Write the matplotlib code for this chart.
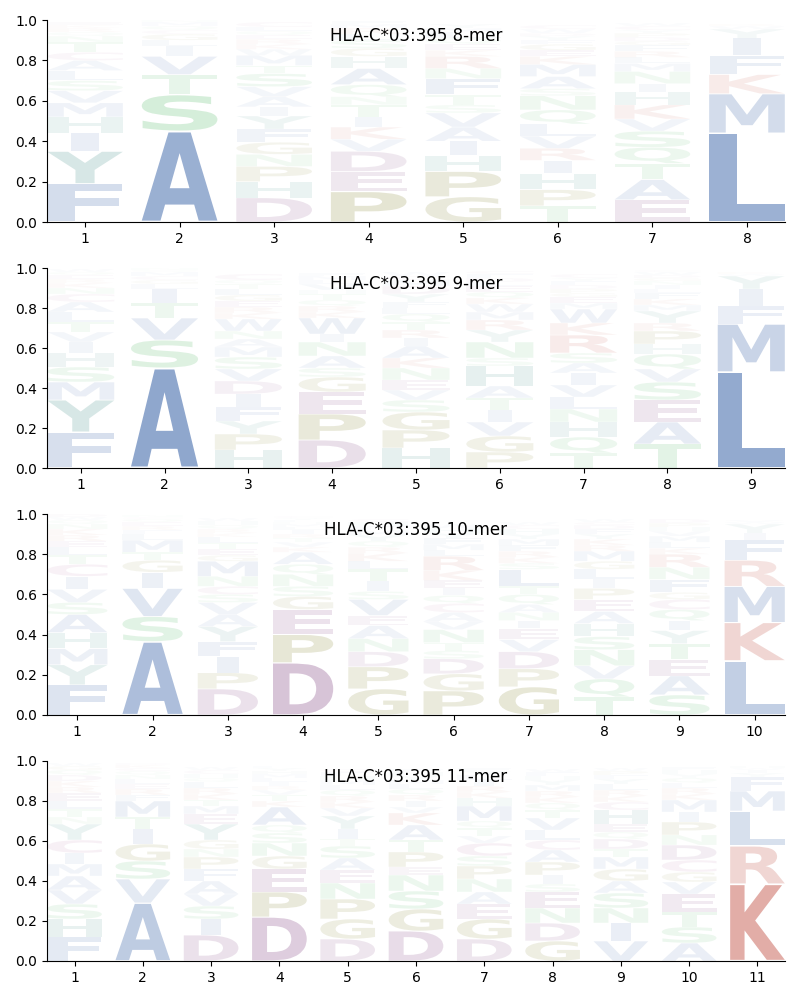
import matplotlib
matplotlib.use("Agg")
import matplotlib.pyplot as plt
from matplotlib.textpath import TextPath
from matplotlib.patches import PathPatch
from matplotlib.font_manager import FontProperties
from matplotlib.transforms import Affine2D

allele = "HLA-C*03:395"

# letter frequencies per position, listed bottom -> top
mer8 = [
    {'F': .19, 'Y': .16, 'I': .09, 'H': .08, 'M': .07, 'V': .06, 'S': .05, 'L': .05, 'A': .05, 'C': .04,
     'T': .05, 'N': .03, 'Q': .02, 'R': .02, 'K': .015, 'E': .015},
    {'A': .45, 'S': .18, 'T': .10, 'V': .09, 'I': .05, 'L': .03, 'G': .03, 'C': .02, 'Q': .02, 'M': .02, 'N': .01},
    {'D': .12, 'H': .08, 'P': .075, 'N': .06, 'G': .06, 'F': .065, 'Y': .065, 'I': .045, 'A': .05, 'V': .05,
     'S': .065, 'T': .04, 'M': .05, 'W': .03, 'K': .025, 'R': .025, 'E': .02, 'Q': .02, 'L': .02, 'C': .025},
    {'P': .15, 'E': .10, 'D': .10, 'V': .06, 'K': .06, 'I': .05, 'T': .06, 'N': .04, 'Q': .06, 'A': .08,
     'H': .06, 'G': .04, 'S': .04, 'L': .03, 'R': .03, 'M': .02, 'F': .015},
    {'G': .125, 'P': .125, 'H': .08, 'I': .07, 'A': .07, 'V': .07, 'S': .04, 'T': .05, 'F': .08, 'N': .05,
     'R': .06, 'K': .03, 'E': .03, 'Q': .03, 'L': .03, 'M': .02, 'Y': .02},
    {'T': .08, 'P': .08, 'H': .08, 'I': .065, 'R': .06, 'V': .06, 'L': .06, 'Q': .07, 'N': .07, 'S': .035,
     'A': .06, 'M': .06, 'K': .04, 'E': .03, 'G': .03, 'F': .02, 'Y': .02, 'D': .015, 'W': .02, 'C': .02},
    {'E': .11, 'A': .10, 'T': .08, 'Q': .08, 'S': .08, 'V': .06, 'K': .07, 'H': .065, 'I': .04, 'N': .06,
     'M': .04, 'L': .03, 'R': .03, 'F': .03, 'G': .02, 'D': .02, 'P': .02, 'Y': .015, 'C': .02, 'W': .015},
    {'L': .44, 'M': .195, 'K': .095, 'F': .095, 'I': .085, 'Y': .045, 'W': .015, 'R': .01},
]

mer9 = [
    {'F': .18, 'Y': .16, 'M': .09, 'S': .075, 'H': .07, 'I': .055, 'V': .05, 'T': .05, 'L': .05, 'A': .05,
     'C': .04, 'N': .03, 'K': .025, 'R': .02, 'E': .02, 'Q': .015, 'W': .015},
    {'A': .50, 'S': .14, 'V': .11, 'T': .075, 'I': .07, 'L': .025, 'G': .02, 'C': .02, 'M': .02, 'Q': .01, 'N': .01},
    {'H': .09, 'P': .08, 'Y': .065, 'F': .07, 'I': .065, 'D': .065, 'V': .06, 'S': .06, 'M': .05, 'A': .04,
     'N': .04, 'W': .06, 'K': .03, 'R': .03, 'E': .03, 'G': .03, 'L': .03, 'T': .025, 'Q': .02, 'C': .03},
    {'D': .14, 'P': .13, 'E': .11, 'G': .075, 'S': .045, 'A': .06, 'N': .07, 'I': .04, 'W': .08, 'K': .03,
     'R': .03, 'Q': .03, 'T': .03, 'H': .02, 'V': .03, 'L': .02, 'M': .02, 'F': .015},
    {'H': .10, 'P': .09, 'G': .09, 'S': .06, 'V': .05, 'E': .05, 'N': .06, 'K': .05, 'A': .06, 'I': .04,
     'R': .04, 'T': .04, 'Q': .04, 'L': .03, 'F': .03, 'Y': .04, 'D': .04, 'M': .03, 'C': .02, 'W': .02},
    {'P': .08, 'G': .08, 'V': .07, 'I': .06, 'T': .06, 'A': .06, 'H': .10, 'S': .04, 'N': .08, 'Y': .06,
     'R': .05, 'M': .04, 'W': .04, 'K': .03, 'Q': .03, 'E': .03, 'L': .02, 'D': .02, 'F': .02, 'C': .015},
    {'T': .075, 'Q': .08, 'H': .075, 'N': .065, 'L': .06, 'V': .06, 'I': .06, 'A': .05, 'S': .05, 'R': .09,
     'K': .06, 'W': .07, 'M': .03, 'E': .03, 'G': .02, 'P': .02, 'D': .02, 'F': .02, 'Y': .015, 'C': .02},
    {'T': .12, 'A': .11, 'E': .11, 'S': .09, 'V': .065, 'Q': .075, 'H': .05, 'P': .065, 'R': .04, 'Y': .06,
     'M': .03, 'K': .03, 'F': .03, 'L': .02, 'I': .02, 'N': .02, 'G': .015, 'D': .015, 'W': .015, 'C': .01},
    {'L': .48, 'M': .24, 'F': .09, 'I': .085, 'Y': .065, 'W': .01, 'K': .01},
]

mer10 = [
    {'F': .15, 'Y': .10, 'M': .08, 'H': .08, 'A': .09, 'S': .06, 'V': .065, 'I': .065, 'C': .06, 'T': .045,
     'L': .04, 'E': .03, 'R': .03, 'K': .03, 'N': .025, 'Q': .02, 'W': .015, 'D': .015},
    {'A': .365, 'S': .125, 'V': .14, 'I': .08, 'G': .06, 'T': .04, 'M': .06, 'L': .03, 'F': .02, 'R': .02,
     'E': .02, 'Q': .015, 'C': .01, 'N': .01},
    {'D': .13, 'P': .08, 'I': .08, 'F': .075, 'Y': .075, 'A': .06, 'V': .06, 'S': .04, 'C': .04, 'N': .05,
     'M': .075, 'G': .03, 'E': .03, 'T': .03, 'L': .03, 'K': .02, 'R': .02, 'Q': .02, 'H': .02, 'W': .015},
    {'D': .26, 'P': .14, 'E': .125, 'G': .065, 'S': .05, 'N': .06, 'Q': .05, 'A': .06, 'K': .025, 'V': .025,
     'T': .02, 'R': .02, 'I': .02, 'L': .015, 'M': .015, 'H': .01, 'F': .01, 'Y': .01, 'C': .01},
    {'G': .13, 'P': .11, 'D': .075, 'N': .065, 'A': .065, 'E': .05, 'V': .08, 'S': .04, 'I': .05, 'T': .06,
     'L': .04, 'K': .04, 'R': .03, 'Q': .03, 'Y': .03, 'M': .025, 'F': .02, 'H': .02, 'C': .015},
    {'P': .12, 'G': .085, 'D': .075, 'S': .04, 'T': .04, 'N': .065, 'V': .04, 'A': .045, 'C': .045, 'Q': .04,
     'I': .035, 'E': .04, 'K': .05, 'R': .07, 'L': .03, 'M': .03, 'F': .03, 'Y': .025, 'H': .025, 'W': .02},
    {'G': .14, 'P': .09, 'D': .085, 'V': .06, 'E': .055, 'I': .04, 'N': .04, 'A': .04, 'Q': .05, 'T': .04,
     'L': .085, 'S': .03, 'K': .03, 'R': .03, 'F': .03, 'M': .03, 'Y': .025, 'H': .025, 'C': .02, 'W': .015},
    {'T': .09, 'Q': .09, 'V': .065, 'N': .08, 'S': .065, 'H': .065, 'A': .06, 'E': .06, 'P': .055, 'I': .045,
     'L': .05, 'G': .04, 'M': .05, 'R': .03, 'K': .03, 'Y': .025, 'F': .025, 'D': .02, 'C': .015, 'W': .015},
    {'S': .10, 'A': .095, 'E': .08, 'T': .08, 'Y': .065, 'I': .05, 'Q': .055, 'C': .05, 'G': .035, 'F': .065,
     'N': .06, 'R': .065, 'K': .03, 'L': .03, 'M': .03, 'V': .025, 'H': .02, 'P': .02, 'D': .02},
    {'L': .27, 'K': .19, 'M': .18, 'R': .13, 'F': .10, 'I': .035, 'Y': .045, 'W': .01, 'V': .01},
]

mer11 = [
    {'F': .12, 'H': .09, 'S': .075, 'V': .07, 'A': .07, 'M': .06, 'I': .055, 'C': .065, 'Y': .08, 'N': .035,
     'T': .04, 'L': .04, 'E': .04, 'R': .03, 'K': .03, 'D': .03, 'Q': .025, 'G': .02, 'W': .015},
    {'A': .29, 'V': .12, 'S': .09, 'G': .085, 'I': .075, 'T': .06, 'M': .08, 'F': .03, 'R': .03, 'E': .025,
     'L': .025, 'N': .02, 'Q': .02, 'C': .015, 'K': .015, 'D': .01},
    {'D': .13, 'I': .08, 'S': .065, 'V': .06, 'A': .065, 'F': .06, 'P': .06, 'N': .04, 'G': .045, 'Y': .08,
     'E': .05, 'M': .04, 'T': .03, 'K': .03, 'R': .03, 'L': .03, 'Q': .02, 'H': .02, 'C': .02, 'W': .015},
    {'D': .22, 'P': .125, 'E': .115, 'G': .065, 'N': .065, 'S': .05, 'Q': .04, 'A': .09, 'K': .03, 'T': .03,
     'V': .025, 'R': .02, 'I': .02, 'L': .02, 'M': .02, 'H': .015, 'Y': .015, 'F': .01},
    {'D': .11, 'G': .10, 'P': .10, 'N': .08, 'E': .065, 'A': .06, 'S': .06, 'T': .035, 'I': .05, 'Y': .065,
     'V': .04, 'K': .03, 'R': .03, 'Q': .03, 'L': .025, 'M': .025, 'H': .02, 'F': .02, 'C': .015},
    {'D': .15, 'G': .11, 'S': .09, 'N': .08, 'E': .04, 'P': .075, 'T': .06, 'A': .075, 'K': .06, 'V': .03,
     'I': .03, 'R': .03, 'Q': .03, 'L': .025, 'M': .02, 'Y': .02, 'H': .02, 'F': .015},
    {'D': .11, 'G': .10, 'E': .075, 'A': .06, 'N': .065, 'P': .065, 'S': .05, 'C': .065, 'V': .035, 'T': .04,
     'Q': .035, 'M': .075, 'H': .04, 'K': .03, 'R': .03, 'I': .03, 'L': .025, 'Y': .02, 'F': .015},
    {'G': .10, 'D': .09, 'N': .075, 'E': .08, 'S': .04, 'I': .045, 'P': .065, 'A': .06, 'C': .05, 'L': .05,
     'V': .06, 'T': .04, 'Q': .035, 'K': .03, 'R': .03, 'M': .03, 'Y': .025, 'H': .02, 'F': .02, 'W': .015},
    {'V': .10, 'I': .09, 'N': .075, 'S': .075, 'A': .06, 'G': .06, 'M': .06, 'T': .04, 'D': .05, 'Q': .035,
     'E': .04, 'H': .07, 'C': .04, 'K': .03, 'R': .03, 'L': .03, 'Y': .025, 'F': .02, 'P': .02, 'W': .015},
    {'A': .09, 'S': .08, 'T': .075, 'E': .09, 'V': .06, 'G': .05, 'C': .06, 'D': .075, 'N': .05, 'P': .065,
     'I': .05, 'M': .06, 'K': .03, 'R': .03, 'L': .025, 'Q': .025, 'Y': .02, 'H': .02, 'F': .015},
    {'K': .385, 'R': .19, 'L': .175, 'M': .10, 'F': .07, 'Y': .02, 'I': .015, 'W': .01, 'H': .01},
]

panels = [("8-mer", mer8), ("9-mer", mer9), ("10-mer", mer10), ("11-mer", mer11)]

group_colors = {
    'AVLIMFW': '#4c72b0',
    'YH': '#3a8a82',
    'STNQ': '#46b45a',
    'KR': '#c4564a',
    'DE': '#874a87',
    'C': '#a65090',
    'PG': '#78781a',
}
color_of = {}
for letters, col in group_colors.items():
    for ch in letters:
        color_of[ch] = col

fp = FontProperties(family='DejaVu Sans', weight='bold')
_cache = {}


def glyph(ch):
    if ch not in _cache:
        _cache[ch] = TextPath((0, 0), ch, size=1, prop=fp)
    return _cache[ch]


E_width = glyph('E').get_extents().width
LETTER_W = 0.8
VPAD = 0.03


def draw_letter(ax, ch, xc, y0, h, color, alpha):
    p = glyph(ch)
    bb = p.get_extents()
    hs = min(LETTER_W / bb.width, LETTER_W / E_width)
    hh = h * (1 - VPAD)
    vs = hh / bb.height
    shift = (LETTER_W - hs * bb.width) / 2
    tr = (Affine2D().translate(-bb.x0, -bb.y0).scale(hs, vs)
          .translate(xc - LETTER_W / 2 + shift, y0 + h * VPAD / 2))
    patch = PathPatch(tr.transform_path(p), facecolor=color, edgecolor='none',
                      alpha=max(0.0, min(1.0, 1.25 * h)))
    ax.add_patch(patch)


fig = plt.figure(figsize=(8, 10), dpi=100)
axes_rects = [
    (0.059, 0.778, 0.922, 0.202),
    (0.059, 0.532, 0.922, 0.200),
    (0.059, 0.285, 0.922, 0.201),
    (0.059, 0.039, 0.922, 0.200),
]

for (label, data), rect in zip(panels, axes_rects):
    ax = fig.add_axes(rect)
    n = len(data)
    for i, col in enumerate(data):
        pos = i + 1
        y = 0.0
        for ch, v in col.items():
            draw_letter(ax, ch, pos, y, v, color_of[ch], v)
            y += v
    ax.set_xlim(0.6, n + 0.4)
    ax.set_ylim(0, 1)
    ax.set_xticks(range(1, n + 1))
    ax.set_yticks([0, 0.2, 0.4, 0.6, 0.8, 1.0])
    ax.spines['top'].set_visible(False)
    ax.spines['right'].set_visible(False)
    ax.text(0.5, 0.92, f"{allele} {label}", transform=ax.transAxes,
            ha='center', va='center', fontsize=12)

fig.savefig("out.png", dpi=100)
